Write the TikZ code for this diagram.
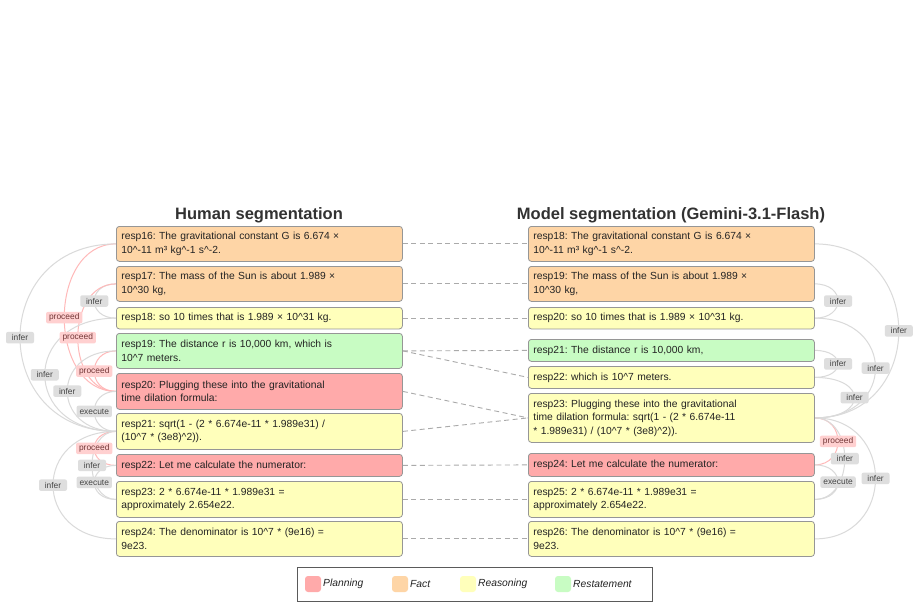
\documentclass[tikz,border=0pt]{standalone}
\usepackage{fontspec}
\setmainfont{Liberation Sans}
\usetikzlibrary{backgrounds}
\frenchspacing
\definecolor{cplan}{RGB}{255,170,170}
\definecolor{cfact}{RGB}{254,213,166}
\definecolor{creas}{RGB}{255,255,187}
\definecolor{crest}{RGB}{200,252,195}
\definecolor{boxborder}{RGB}{150,150,150}
\definecolor{txt}{RGB}{35,35,35}
\definecolor{arcg}{RGB}{218,218,218}
\definecolor{arcp}{RGB}{255,185,185}
\definecolor{labg}{RGB}{222,222,222}
\definecolor{labp}{RGB}{255,208,208}
\definecolor{labgt}{RGB}{70,70,70}
\definecolor{labpt}{RGB}{115,55,55}
\definecolor{dashc}{RGB}{170,170,170}
\definecolor{titlec}{RGB}{50,50,50}
\definecolor{legb}{RGB}{90,90,90}
\newcommand{\crt}{\textasciicircum{}}
\tikzset{
  box/.style={draw=boxborder, rounded corners=3pt, line width=0.8pt, anchor=north west,
    minimum width=286pt, text width=276pt, inner xsep=5pt, inner ysep=0pt, align=left,
    font=\fontsize{10.3}{13.5}\selectfont, text=txt},
  fact/.style={box, fill=cfact},
  plan/.style={box, fill=cplan},
  reas/.style={box, fill=creas},
  rest/.style={box, fill=crest},
  garc/.style={draw=arcg, line width=1pt},
  parc/.style={draw=arcp, line width=1pt},
  lab/.style={rounded corners=2pt, inner xsep=3pt, inner ysep=0pt, minimum width=28pt,
    minimum height=11.5pt, font=\fontsize{8.4}{9}\selectfont},
  glab/.style={lab, fill=labg, text=labgt},
  plab/.style={lab, fill=labp, text=labpt},
  dashline/.style={draw=dashc, line width=0.9pt, dash pattern=on 5pt off 3.5pt},
  ttl/.style={font=\fontsize{16.5}{19}\selectfont\bfseries, text=titlec},
  swatch/.style={rounded corners=3pt, minimum width=16pt, minimum height=16pt, inner sep=0pt},
  legtext/.style={anchor=west, font=\fontsize{10.3}{12}\selectfont\itshape, text=txt, inner sep=0pt}
}
\begin{document}
\begin{tikzpicture}[x=1pt, y=-1pt]
\useasboundingbox (0,0) rectangle (919,607);

% titles
\node[ttl] (t1) at (259,215) {Human segmentation};
\node[ttl] (t2) at (671,215) {Model segmentation (Gemini-3.1-Flash)};

% boxes left
\node[fact, minimum height=35pt] (L16) at (116,226) {resp16: The gravitational constant G is 6.674 ×\\10\crt-11 m³ kg\crt-1 s\crt-2.};
\node[fact, minimum height=35pt] (L17) at (116,266) {resp17: The mass of the Sun is about 1.989 ×\\10\crt30 kg,};
\node[reas, minimum height=21.5pt] (L18) at (116,307) {resp18: so 10 times that is 1.989 × 10\crt31 kg.};
\node[rest, minimum height=35pt] (L19) at (116,333) {resp19: The distance r is 10,000 km, which is\\10\crt7 meters.};
\node[plan, minimum height=36pt] (L20) at (116,373) {resp20: Plugging these into the gravitational\\time dilation formula:};
\node[reas, minimum height=36pt] (L21) at (116,413) {resp21: sqrt(1 - (2 * 6.674e-11 * 1.989e31) /\\(10\crt7 * (3e8)\crt2)).};
\node[plan, minimum height=22pt] (L22) at (116,454) {resp22: Let me calculate the numerator:};
\node[reas, minimum height=36pt] (L23) at (116,481) {resp23: 2 * 6.674e-11 * 1.989e31 =\\approximately 2.654e22.};
\node[reas, minimum height=35pt] (L24) at (116,521) {resp24: The denominator is 10\crt7 * (9e16) =\\9e23.};

% boxes right
\node[fact, minimum height=35pt] (R18) at (528,226) {resp18: The gravitational constant G is 6.674 ×\\10\crt-11 m³ kg\crt-1 s\crt-2.};
\node[fact, minimum height=35pt] (R19) at (528,266) {resp19: The mass of the Sun is about 1.989 ×\\10\crt30 kg,};
\node[reas, minimum height=21.5pt] (R20) at (528,307) {resp20: so 10 times that is 1.989 × 10\crt31 kg.};
\node[rest, minimum height=22pt] (R21) at (528,339) {resp21: The distance r is 10,000 km,};
\node[reas, minimum height=22pt] (R22) at (528,366) {resp22: which is 10\crt7 meters.};
\node[reas, minimum height=49pt] (R23) at (528,393) {resp23: Plugging these into the gravitational\\time dilation formula: sqrt(1 - (2 * 6.674e-11\\{}* 1.989e31) / (10\crt7 * (3e8)\crt2)).};
\node[plan, minimum height=23pt] (R24) at (528,453) {resp24: Let me calculate the numerator:};
\node[reas, minimum height=36pt] (R25) at (528,481) {resp25: 2 * 6.674e-11 * 1.989e31 =\\approximately 2.654e22.};
\node[reas, minimum height=35pt] (R26) at (528,521) {resp26: The denominator is 10\crt7 * (9e16) =\\9e23.};

\begin{scope}[on background layer]
\fill[white] (0,0) rectangle (919,607);
% left arcs
\path[garc] (L17.west) .. controls +(-29,0) and +(-29,0) .. (L18.west) coordinate[pos=.5] (la1);
\path[parc] (L16.west) .. controls +(-69,0) and +(-69,0) .. (L20.west) coordinate[pos=.5] (la2);
\path[garc] (L16.west) .. controls +(-128,0) and +(-128,0) .. (L21.west) coordinate[pos=.5] (la3);
\path[parc] (L17.west) .. controls +(-51,0) and +(-51,0) .. (L20.west) coordinate[pos=.5] (la4);
\path[garc] (L18.west) .. controls +(-95,0) and +(-95,0) .. (L21.west) coordinate[pos=.5] (la5);
\path[parc] (L19.west) .. controls +(-29,0) and +(-29,0) .. (L20.west) coordinate[pos=.5] (la6);
\path[garc] (L19.west) .. controls +(-65,0) and +(-65,0) .. (L21.west) coordinate[pos=.5] (la7);
\path[garc] (L20.west) .. controls +(-29,0) and +(-29,0) .. (L21.west) coordinate[pos=.5] (la8);
\path[parc] (L21.west) .. controls +(-29,0) and +(-29,0) .. (L22.west) coordinate[pos=.5] (la9);
\path[garc] (L21.west) .. controls +(-32,0) and +(-32,0) .. (L23.west) coordinate[pos=.5] (la10);
\path[garc] (L21.west) .. controls +(-84,0) and +(-84,0) .. (L24.west) coordinate[pos=.5] (la11);
\path[garc] (L22.west) .. controls +(-29,0) and +(-29,0) .. (L23.west) coordinate[pos=.5] (la12);
% right arcs
\path[garc] (R19.east) .. controls +(31,0) and +(31,0) .. (R20.east) coordinate[pos=.5] (ra1);
\path[garc] (R18.east) .. controls +(112,0) and +(112,0) .. (R23.east) coordinate[pos=.5] (ra2);
\path[garc] (R21.east) .. controls +(31,0) and +(31,0) .. (R22.east) coordinate[pos=.5] (ra3);
\path[garc] (R20.east) .. controls +(81,0) and +(81,0) .. (R23.east) coordinate[pos=.5] (ra4);
\path[garc] (R22.east) .. controls +(53,0) and +(53,0) .. (R23.east) coordinate[pos=.5] (ra5);
\path[parc] (R23.east) .. controls +(31,0) and +(31,0) .. (R24.east) coordinate[pos=.5] (ra6);
\path[garc] (R23.east) .. controls +(40,0) and +(40,0) .. (R25.east) coordinate[pos=.5] (ra7);
\path[garc] (R24.east) .. controls +(31,0) and +(31,0) .. (R25.east) coordinate[pos=.5] (ra8);
\path[garc] (R23.east) .. controls +(81,0) and +(81,0) .. (R26.east) coordinate[pos=.5] (ra9);
\end{scope}

% dashed alignment connectors
\draw[dashline] (L16.east) -- (R18.west);
\draw[dashline] (L17.east) -- (R19.west);
\draw[dashline] (L18.east) -- (R20.west);
\draw[dashline] (L19.east) -- (R21.west);
\draw[dashline] (L19.east) -- (R22.west);
\draw[dashline] (L20.east) -- (R23.west);
\draw[dashline] (L21.east) -- (R23.west);
\draw[dashline] (L22.east) -- (R24.west);
\draw[dashline] (L23.east) -- (R25.west);
\draw[dashline] (L24.east) -- (R26.west);

% labels
\node[glab] at (la1) {infer};
\node[plab] at (la2) {proceed};
\node[glab] at (la3) {infer};
\node[plab] at (la4) {proceed};
\node[glab] at (la5) {infer};
\node[plab] at (la6) {proceed};
\node[glab] at (la7) {infer};
\node[glab] at (la8) {execute};
\node[plab] at (la9) {proceed};
\node[glab] at (la10) {infer};
\node[glab] at (la11) {infer};
\node[glab] at (la12) {execute};
\node[glab] at (ra1) {infer};
\node[glab] at (ra2) {infer};
\node[glab] at (ra3) {infer};
\node[glab] at (ra4) {infer};
\node[glab] at (ra5) {infer};
\node[plab] at (ra6) {proceed};
\node[glab] at (ra7) {infer};
\node[glab] at (ra8) {execute};
\node[glab] at (ra9) {infer};

% legend
\node[draw=legb, fill=white, line width=0.8pt, anchor=north west, minimum width=355pt, minimum height=34pt, inner sep=0pt] (leg) at (297,567) {};
\node[swatch, fill=cplan] (s1) at (313,584) {};
\node[legtext] (l1) at (323,584) {Planning};
\node[swatch, fill=cfact] (s2) at (400,584) {};
\node[legtext] (l2) at (410,584) {Fact};
\node[swatch, fill=creas] (s3) at (468,584) {};
\node[legtext] (l3) at (478,584) {Reasoning};
\node[swatch, fill=crest] (s4) at (563,584) {};
\node[legtext] (l4) at (573,584) {Restatement};
\end{tikzpicture}
\end{document}
